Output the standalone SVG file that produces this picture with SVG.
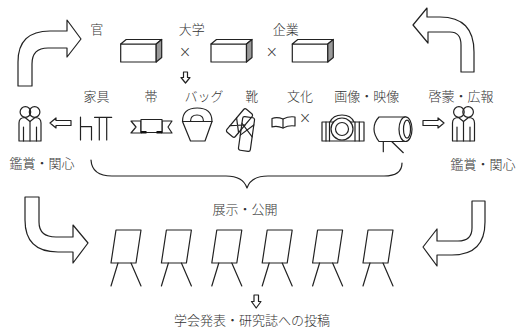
<svg xmlns="http://www.w3.org/2000/svg" width="523" height="330" viewBox="0 0 523 330">
  <style>
    .ln { fill: none; stroke: #222; stroke-width: 1.2; stroke-linejoin: round; stroke-linecap: round; }
    .wf { fill: #fff; stroke: #222; stroke-width: 1.2; stroke-linejoin: round; }
    .t { font-family: "Noto Sans CJK JP", "Noto Sans CJK SC", sans-serif; font-size: 13px; font-weight: 300; fill: #333; text-anchor: middle; }
    .x { font-family: "DejaVu Sans", sans-serif; font-size: 15px; font-weight: 300; fill: #333; text-anchor: middle; }
  </style>
  <defs>
    <!-- 3D block: front face, top face, shaded side -->
    <g id="block">
      <rect class="wf" x="0" y="4.5" width="35.5" height="18"/>
      <polygon class="wf" points="0,4.5 5.5,0 41,0 35.5,4.5"/>
      <polygon points="35.5,4.5 41,0 41,18 35.5,22.5" fill="#9a9a9a" stroke="#222" stroke-width="1.2" stroke-linejoin="round"/>
    </g>
    <!-- two people side by side -->
    <g id="pair">
      <circle class="ln" cx="-4.6" cy="112" r="5.3"/>
      <circle class="ln" cx="4.6" cy="112" r="5.3"/>
      <path class="ln" d="M-11,141 V123 Q-11,117.5 -5,117.5 L0,121.5 L5,117.5 Q11,117.5 11,123 V141 Z"/>
      <path class="ln" d="M0,121.5 V141 M-6.5,127 V141 M6.5,127 V141"/>
    </g>
    <!-- easel with a board -->
    <g id="easel">
      <polygon class="wf" points="0,0 25,0 20,33 -5,33"/>
      <path class="ln" d="M2,33 L-5,56 M15,33 L25,56"/>
    </g>
  </defs>

  <!-- big curved arrows -->
  <g id="arrow-top-left">
    <path class="wf" d="M18,86 L18,62 Q18,31 50,31 L67,31 L67,20 L81,39 L67,57 L67,48 L48,48 Q32,48 32,64 L32,86 Z"/>
  </g>
  <g id="arrow-top-right">
    <path class="wf" d="M474,72 L474,52 Q474,17 440,17 L427,17 L427,8 L413,25 L428,43 L428,32 L450,32 Q461,32 461,45 L461,72 Z"/>
  </g>
  <g id="arrow-bottom-left">
    <path class="wf" d="M25,197 L39,197 L39,222 Q39,237 56,237 L73,237 L73,225 L88,243 L73,263 L73,252 L58,252 Q25,252 25,220 Z"/>
  </g>
  <g id="arrow-bottom-right">
    <path class="wf" d="M472,201 L485,201 L485,222 Q485,255 452,255 L437,255 L437,266 L423,247 L437,229 L437,241 L458,241 Q472,241 472,228 Z"/>
  </g>

  <!-- partners -->
  <g id="gov">
    <text class="t" x="96.7" y="34">官</text>
    <use href="#block" x="120.7" y="39.5"/>
  </g>
  <g id="univ">
    <text class="t" x="191.7" y="34">大学</text>
    <use href="#block" x="211" y="39.5"/>
  </g>
  <g id="corp">
    <text class="t" x="285.7" y="34">企業</text>
    <use href="#block" x="292.3" y="39.5"/>
  </g>
  <text class="x" x="185" y="57">×</text>
  <text class="x" x="271.7" y="57">×</text>

  <!-- small hollow arrows -->
  <g id="connectors">
    <polygon class="wf" points="183.5,72 187.5,72 187.5,77.5 190,77.5 185.5,83 181,77.5 183.5,77.5"/>
    <polygon class="wf" points="254,295 258.5,295 258.5,301.5 261,301.5 256.2,308 251.5,301.5 254,301.5"/>
    <polygon class="wf" points="50,123 56,118 56,120.5 71,120.5 71,125.5 56,125.5 56,128"/>
    <polygon class="wf" points="444,123 438,118 438,120.5 423,120.5 423,125.5 438,125.5 438,128"/>
    <!-- brace gathering the exhibits -->
    <path class="ln" d="M91,160 Q92,176 112,176 L226,176 Q243,176 247,188 Q251,176 268,176 L384,176 Q402,176 402,163"/>
  </g>

  <!-- viewers on both sides -->
  <g id="viewers-left">
    <use href="#pair" x="30" y="0"/>
    <text class="t" x="42" y="168">鑑賞・関心</text>
  </g>
  <g id="viewers-right">
    <use href="#pair" x="463.5" y="0"/>
    <text class="t" x="483" y="169">鑑賞・関心</text>
  </g>

  <!-- exhibit items -->
  <g id="furniture">
    <text class="t" x="96.5" y="100.5">家具</text>
    <path class="ln" d="M80.5,117 V140 M80.5,126.7 H91.5 V140 M94.5,117.3 H111.7 M99.3,117.3 V140 M106.7,117.3 V140"/>
  </g>
  <g id="obi">
    <text class="t" x="151" y="100.5">帯</text>
    <polygon class="wf" points="141,121 131,121 136,127 131,133 141,133"/>
    <polygon class="wf" points="162,121 172,121 168,127 172,133 162,133"/>
    <rect class="wf" x="141" y="119.5" width="21" height="13"/>
    <rect x="141" y="131" width="5.5" height="2.5" fill="#111"/>
    <rect x="156.5" y="131" width="5.5" height="2.5" fill="#111"/>
  </g>
  <g id="bag">
    <text class="t" x="204" y="100.5">バッグ</text>
    <path class="wf" d="M182.5,121.5 L190.5,141 L205,141 L212,121.5 Z"/>
    <path class="wf" d="M182.5,121.5 Q182.5,108 197.2,108 Q212,108 212,121.5 Z"/>
    <path class="ln" d="M190.5,121.5 Q190.5,115 197,115 Q203.5,115 203.5,121.5"/>
  </g>
  <g id="shoes">
    <text class="t" x="251.7" y="100.5">靴</text>
    <g transform="translate(239.5,123) rotate(-50)">
      <rect class="ln" x="-15" y="-5.5" width="30" height="11" rx="2"/>
      <path class="ln" d="M-8,-5.5 L2,5.5 M-8,5.5 L2,-5.5"/>
    </g>
    <g transform="translate(246.5,134) rotate(8)">
      <rect class="ln" x="-6" y="-17" width="12" height="34" rx="2"/>
      <path class="ln" d="M-6,-10 L6,2 M6,-10 L-6,2"/>
    </g>
  </g>
  <g id="culture">
    <text class="t" x="300" y="100.5">文化</text>
    <path class="wf" d="M272,118.5 Q277,116.5 283,119 Q289,116 295,117 L295,126 Q289,125 283,128 Q277,125.5 272,127 Z"/>
    <path class="ln" d="M283,119 V128"/>
    <text class="x" x="305" y="123">×</text>
  </g>
  <g id="camera">
    <text class="t" x="366.7" y="100.5">画像・映像</text>
    <path class="wf" d="M330,122 Q333,115 342,115 Q351,115 354,122"/>
    <rect class="wf" x="322" y="122" width="42" height="19"/>
    <path class="ln" d="M326,122 V141 M329.5,122 V141 M355,122 V141 M359.3,122 V141"/>
    <circle class="wf" cx="342" cy="129" r="11"/>
    <circle class="ln" cx="342" cy="129" r="6.5"/>
  </g>
  <g id="video">
    <path class="ln" d="M383.3,141.5 V151.7 M391.7,141.5 L403.3,152.7"/>
    <path class="wf" d="M379,117 L405.5,117 L405.5,141.5 L379,141.5 Q374,135 374,129 Q374,122 379,117 Z"/>
    <ellipse class="wf" cx="405.5" cy="129.2" rx="6.5" ry="12.3"/>
    <ellipse class="ln" cx="407" cy="129.2" rx="3.5" ry="9"/>
  </g>
  <g id="promo">
    <text class="t" x="461" y="100.5">啓蒙・広報</text>
  </g>

  <!-- exhibition -->
  <g id="exhibit">
    <text class="t" x="245" y="214">展示・公開</text>
    <use href="#easel" x="116" y="230"/>
    <use href="#easel" x="166.4" y="230"/>
    <use href="#easel" x="216.8" y="230"/>
    <use href="#easel" x="267.2" y="230"/>
    <use href="#easel" x="317.6" y="230"/>
    <use href="#easel" x="368" y="230"/>
  </g>
  <g id="publish">
    <text class="t" x="252" y="325">学会発表・研究誌への投稿</text>
  </g>
</svg>
